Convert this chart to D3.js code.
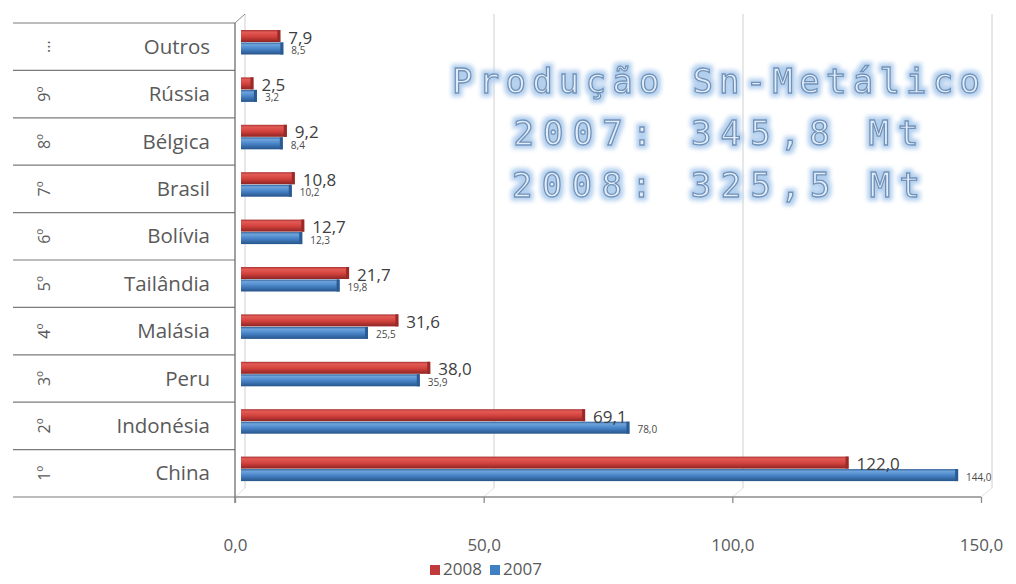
<!DOCTYPE html>
<html>
<head>
<meta charset="utf-8">
<script src="https://cdn.jsdelivr.net/npm/d3@7"></script>
<style>
  html, body { margin: 0; padding: 0; background: #fff; }
  svg { display: block; }
</style>
</head>
<body>
<svg id="chart" width="1016" height="584"></svg>
<script>
// Produção de estanho metálico por país (Mt)
const categories = ["Outros", "Rússia", "Bélgica", "Brasil", "Bolívia", "Tailândia", "Malásia", "Peru", "Indonésia", "China"];
const ranks = ["...", "9º", "8º", "7º", "6º", "5º", "4º", "3º", "2º", "1º"];
const values2008 = [7.9, 2.5, 9.2, 10.8, 12.7, 21.7, 31.6, 38.0, 69.1, 122.0];
const values2007 = [8.5, 3.2, 8.4, 10.2, 12.3, 19.8, 25.5, 35.9, 78.0, 144.0];
const seriesNames = ["2008", "2007"];
const xTicks = [0, 50, 100, 150];
const titleLines = ["Produção Sn-Metálico", "2007: 345,8 Mt", "2008: 325,5 Mt"];

const ptBR = d3.formatLocale({ decimal: ",", thousands: ".", grouping: [3], currency: ["R$", ""] });
const fmt = ptBR.format(".1f");

const svg = d3.select("#chart");
const defs = svg.append("defs");

// Bar gradients (slight box shading)
function gradient(id, stops) {
  const g = defs.append("linearGradient").attr("id", id)
    .attr("x1", 0).attr("y1", 0).attr("x2", 0).attr("y2", 1);
  stops.forEach(([o, c]) => g.append("stop").attr("offset", o).attr("stop-color", c));
}
gradient("g2008", [[0, "#a83232"], [0.18, "#e35a55"], [0.55, "#d2423d"], [1, "#8e2424"]]);
gradient("g2007", [[0, "#2f5f98"], [0.18, "#6ea4dc"], [0.55, "#4682c6"], [1, "#27548a"]]);
const fills = { "2008": "url(#g2008)", "2007": "url(#g2007)" };
const caps = { "2008": "#9a2a28", "2007": "#2a5b92" };
const legendColors = { "2008": "#c0393b", "2007": "#3f7fc4" };

// Glow for the title
const glow = defs.append("filter").attr("id", "glow")
  .attr("x", "-10%").attr("y", "-30%").attr("width", "120%").attr("height", "160%");
glow.append("feMorphology").attr("in", "SourceAlpha").attr("operator", "dilate").attr("radius", 2.5).attr("result", "d");
glow.append("feGaussianBlur").attr("in", "d").attr("stdDeviation", 2).attr("result", "b");
glow.append("feFlood").attr("flood-color", "#a9c9ec").attr("flood-opacity", 0.9).attr("result", "c");
glow.append("feComposite").attr("in", "c").attr("in2", "b").attr("operator", "in").attr("result", "halo");
const mg = glow.append("feMerge");
mg.append("feMergeNode").attr("in", "halo");
mg.append("feMergeNode").attr("in", "SourceGraphic");

// Scales: front axis plane, back wall, and bar plane
const xFront = d3.scaleLinear().domain([0, 150]).range([235, 981]);
const xBack = d3.scaleLinear().domain([0, 150]).range([245, 992]);
const xBar = d3.scaleLinear().domain([0, 150]).range([241, 988]);
const y = d3.scaleBand().domain(categories).range([23, 497]).padding(0);
const ySub = d3.scaleBand().domain(seriesNames).range([7, 32]).padding(0);

const gridColor = "#d0d0d0";
const axisColor = "#8c8c8c";

// Back wall and gridlines
svg.append("line").attr("x1", xBack(0)).attr("x2", xBack(0)).attr("y1", 14).attr("y2", 488)
  .attr("stroke", gridColor).attr("stroke-width", 1);
svg.selectAll(".grid").data(xTicks.slice(1)).join("line")
  .attr("x1", d => xBack(d)).attr("x2", d => xBack(d))
  .attr("y1", 14).attr("y2", 488)
  .attr("stroke", gridColor).attr("stroke-width", 1);
// depth edges joining front and back planes
svg.selectAll(".depth").data(xTicks).join("line")
  .attr("x1", d => xFront(d)).attr("y1", 497)
  .attr("x2", d => xBack(d)).attr("y2", 488)
  .attr("stroke", "#e2e2e2").attr("stroke-width", 1);
svg.append("line").attr("x1", xFront(0)).attr("y1", 23).attr("x2", xBack(0)).attr("y2", 14)
  .attr("stroke", axisColor).attr("stroke-width", 1);

// Row separators of the category table
const bounds = categories.map(c => y(c)).concat([y.range()[1]]);
svg.selectAll(".row").data(bounds).join("line")
  .attr("x1", 13).attr("x2", xFront(0))
  .attr("y1", d => d).attr("y2", d => d)
  .attr("stroke", "#7a7a7a").attr("stroke-width", 1.2);

// Front axes
svg.append("line").attr("x1", xFront(0)).attr("x2", xFront(0)).attr("y1", 23).attr("y2", 503)
  .attr("stroke", "#6e6e6e").attr("stroke-width", 1.3);
svg.append("line").attr("x1", xFront(0)).attr("x2", xFront(150)).attr("y1", 497).attr("y2", 497)
  .attr("stroke", axisColor).attr("stroke-width", 1.3);
const xAxis = d3.axisBottom(xFront).tickValues(xTicks).tickSize(6).tickFormat(fmt).tickPadding(36);
const gx = svg.append("g").attr("transform", "translate(0,497)").call(xAxis);
gx.select(".domain").remove();
gx.selectAll(".tick line").attr("stroke", axisColor).attr("stroke-width", 1.3);
gx.selectAll(".tick text")
  .attr("fill", "#5a5a5a").attr("font-family", "'Open Sans', sans-serif").attr("font-size", 17);

// Category names and rank labels
svg.selectAll(".cat").data(categories).join("text")
  .attr("x", 210).attr("y", d => y(d) + y.bandwidth() / 2 + 7)
  .attr("text-anchor", "end")
  .attr("font-family", "'Open Sans', sans-serif").attr("font-size", 20.5)
  .attr("fill", "#5a5a5a")
  .text(d => d);
svg.selectAll(".rank").data(categories).join("text")
  .attr("transform", (d, i) => `translate(50,${y(d) + y.bandwidth() / 2}) rotate(-90)`)
  .attr("text-anchor", "middle")
  .attr("font-family", "'Open Sans', sans-serif").attr("font-size", 16)
  .attr("fill", "#5a5a5a")
  .text((d, i) => ranks[i]);

// Bars
const rows = categories.map((c, i) => ({ cat: c, "2008": values2008[i], "2007": values2007[i] }));
const cells = rows.flatMap(r => seriesNames.map(s => ({ cat: r.cat, s, v: r[s] })));
const bars = svg.selectAll(".bar").data(cells).join("g");
bars.append("rect")
  .attr("x", xBar(0))
  .attr("y", d => y(d.cat) + ySub(d.s))
  .attr("width", d => xBar(d.v) - xBar(0))
  .attr("height", ySub.bandwidth() - 0.5)
  .attr("fill", d => fills[d.s]);
bars.append("rect")
  .attr("x", d => xBar(d.v) - 3)
  .attr("y", d => y(d.cat) + ySub(d.s))
  .attr("width", 3)
  .attr("height", ySub.bandwidth() - 0.5)
  .attr("fill", d => caps[d.s]);

// Value labels
svg.selectAll(".lab2008").data(rows).join("text")
  .attr("x", d => xBar(d["2008"]) + 8)
  .attr("y", d => y(d.cat) + ySub("2008") + ySub.bandwidth() + 1)
  .attr("font-family", "'Open Sans', sans-serif").attr("font-size", 17)
  .attr("fill", "#404040")
  .text(d => fmt(d["2008"]));
svg.selectAll(".lab2007").data(rows).join("text")
  .attr("x", d => xBar(d["2007"]) + 8)
  .attr("y", d => y(d.cat) + ySub("2007") + ySub.bandwidth() - 1)
  .attr("font-family", "'Open Sans', sans-serif").attr("font-size", 10)
  .attr("fill", "#4a4a4a")
  .text(d => fmt(d["2007"]));

// Title block
const titleWidths = [528, 405, 408];
const titleBase = [93, 145, 197];
svg.append("g").attr("filter", "url(#glow)")
  .selectAll("text").data(titleLines).join("text")
  .attr("x", 716).attr("y", (d, i) => titleBase[i])
  .attr("text-anchor", "middle")
  .attr("textLength", (d, i) => titleWidths[i])
  .attr("lengthAdjust", "spacing")
  .attr("font-family", "'DejaVu Sans Mono', monospace").attr("font-size", 34)
  .attr("fill", "#e2edf9").attr("stroke", "#7192b8").attr("stroke-width", 1.3)
  .text(d => d);

// Legend
const legend = svg.append("g").attr("transform", "translate(430,575)");
const lx = d3.scaleOrdinal().domain(seriesNames).range([0, 60]);
const li = legend.selectAll("g").data(seriesNames).join("g")
  .attr("transform", d => `translate(${lx(d)},0)`);
li.append("rect").attr("x", 0).attr("y", -10).attr("width", 10).attr("height", 10)
  .attr("fill", d => legendColors[d]);
li.append("text").attr("x", 13).attr("y", 0)
  .attr("font-family", "'Open Sans', sans-serif").attr("font-size", 17)
  .attr("fill", "#5a5a5a")
  .text(d => d);
</script>
</body>
</html>
